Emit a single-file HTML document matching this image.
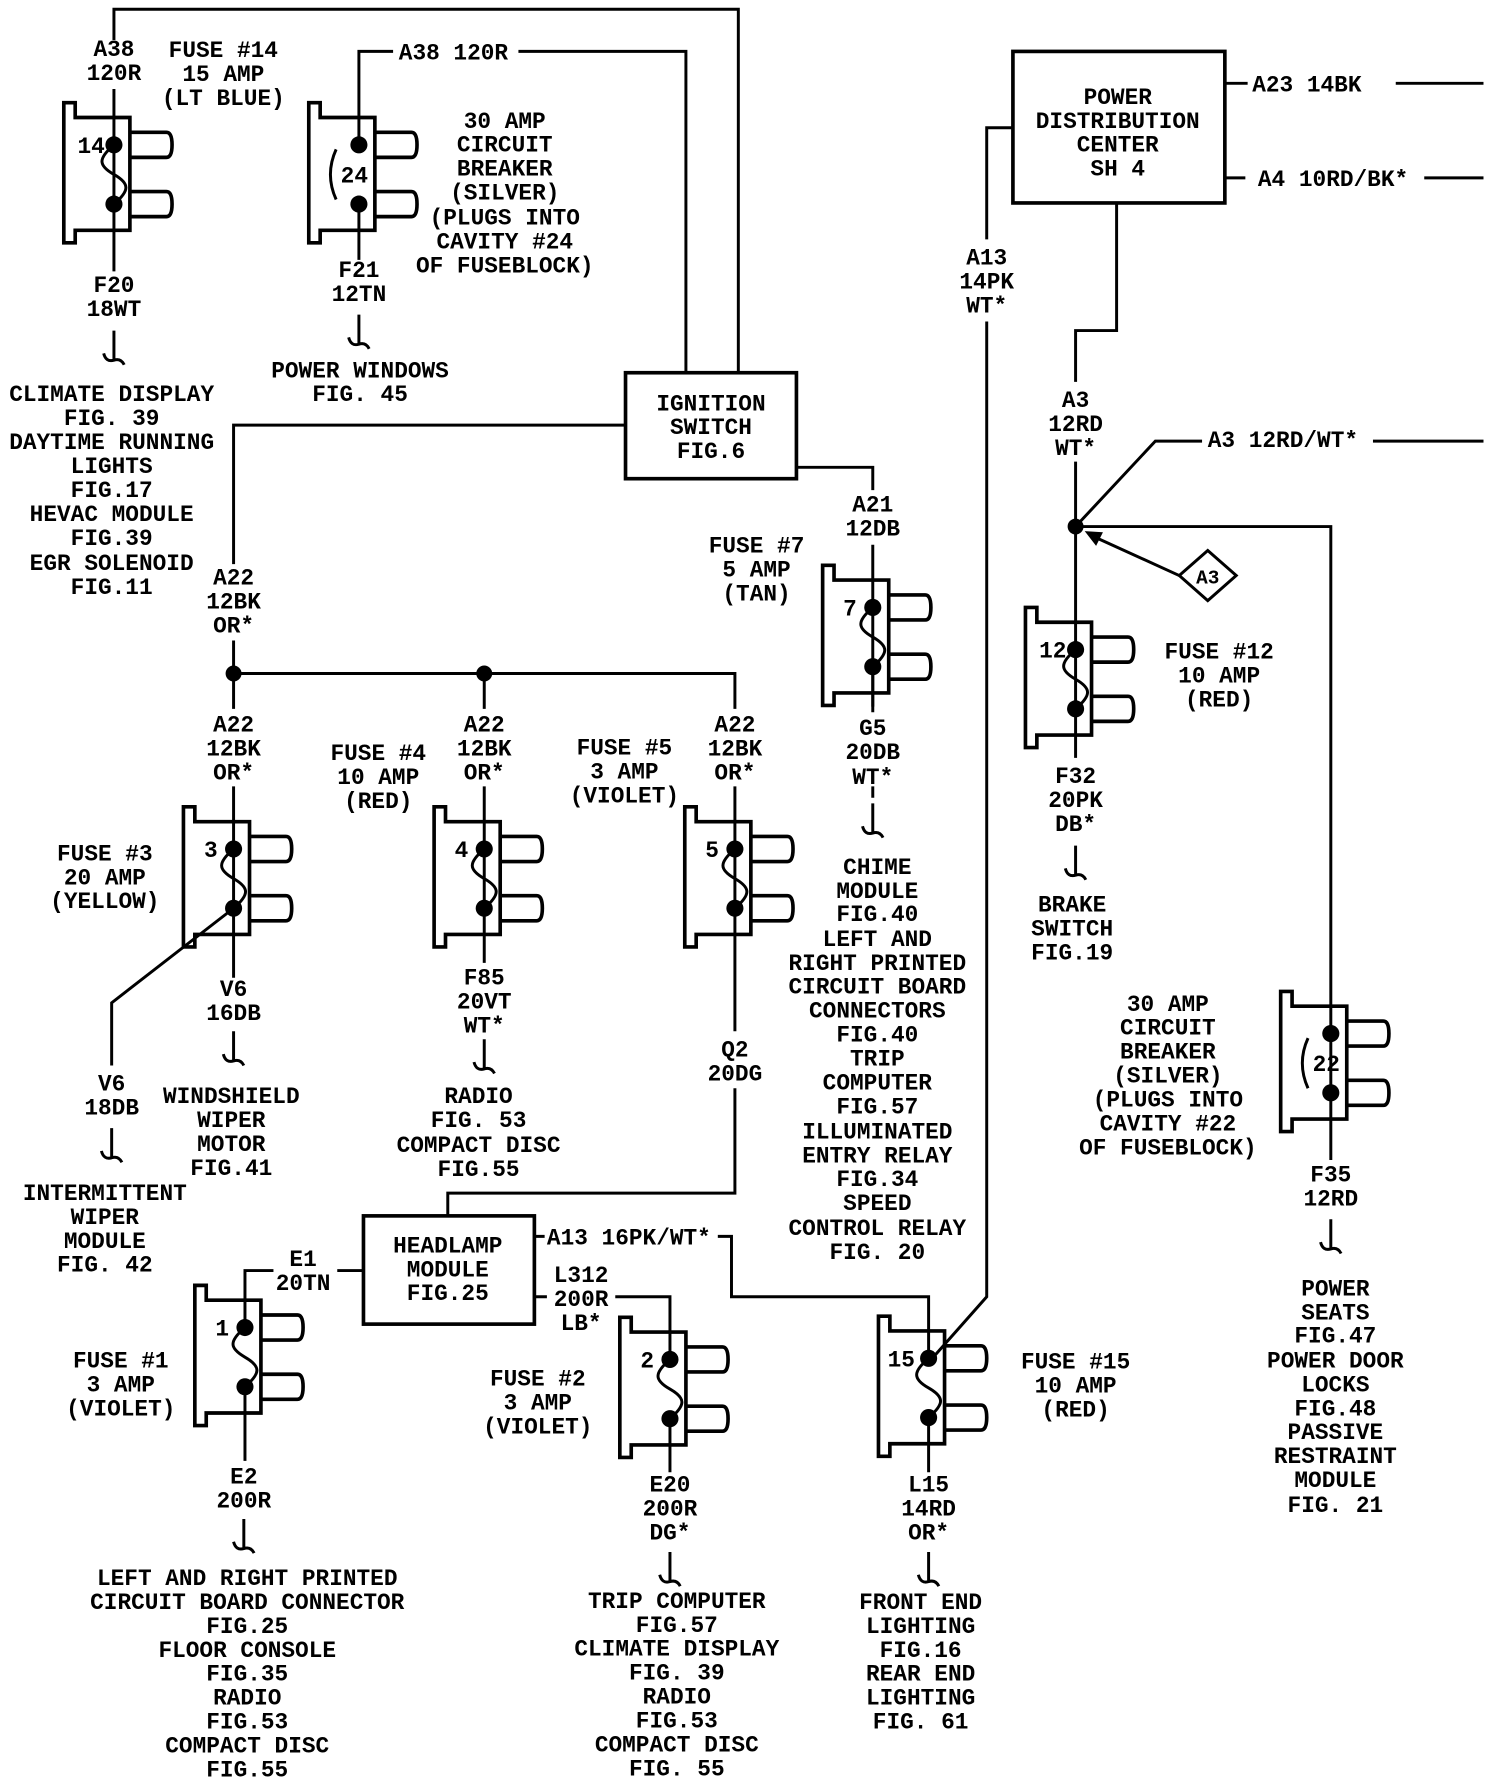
<!DOCTYPE html>
<html><head><meta charset="utf-8"><style>
html,body{margin:0;padding:0;background:#fff;}
svg{display:block;}
text{font-family:"Liberation Mono",monospace;font-weight:bold;font-size:20px;fill:#000;text-anchor:middle;}
.s{text-anchor:start;}
.w{fill:none;stroke:#000;stroke-width:2.6;}
.b{fill:none;stroke:#000;stroke-width:3.2;}
</style></head><body>
<svg width="1504" height="1788" viewBox="0 0 1320 1569" xmlns="http://www.w3.org/2000/svg">
<defs>
<g id="fz">
<polygon class="b" points="-44,-37 -34,-37 -34,-24 14,-24 14,75 -34,75 -34,86 -44,86"/>
<path class="b" d="M14,-11 H46 Q51,-11 51,0 Q51,11 46,11 H14 M14,41 H46 Q51,41 51,52 Q51,63 46,63 H14"/>
<circle cx="0" cy="0" r="7.5"/><circle cx="0" cy="52" r="7.5"/>
<path class="w" d="M0,0 C-14,12 -14,18 0,26 C14,34 14,40 0,52"/>
</g>
<g id="cb">
<polygon class="b" points="-44,-37 -34,-37 -34,-24 14,-24 14,75 -34,75 -34,86 -44,86"/>
<path class="b" d="M14,-11 H46 Q51,-11 51,0 Q51,11 46,11 H14 M14,41 H46 Q51,41 51,52 Q51,63 46,63 H14"/>
<circle cx="0" cy="0" r="7.5"/><circle cx="0" cy="52" r="7.5"/>
<path class="w" d="M-20,4 Q-30,26 -20,48"/>
</g>
<path id="gnd" class="w" d="M0,0 V26 M-9,20 Q-7,28 0,26 Q6,24 9,30"/>
</defs>

<use href="#fz" x="100" y="127"/><text x="80" y="134">14</text>
<use href="#cb" x="315" y="127"/><text x="311" y="160">24</text>
<use href="#fz" x="766" y="533"/><text x="746" y="540">7</text>
<use href="#fz" x="944" y="570"/><text x="924" y="577">12</text>
<use href="#cb" x="1168" y="907"/><text x="1164" y="940">22</text>
<use href="#fz" x="205" y="745"/><text x="185" y="752">3</text>
<use href="#fz" x="425" y="745"/><text x="405" y="752">4</text>
<use href="#fz" x="645" y="745"/><text x="625" y="752">5</text>
<use href="#fz" x="215" y="1165"/><text x="195" y="1172">1</text>
<use href="#fz" x="588" y="1193"/><text x="568" y="1200">2</text>
<use href="#fz" x="815" y="1192"/><text x="791" y="1199">15</text>

<rect class="b" x="549" y="327" width="150" height="93"/>
<rect class="b" x="319" y="1067" width="150" height="95"/>
<rect class="b" x="889" y="45" width="186" height="133"/>

<path class="w" d="M100,35 V8 H648 V327 M100,78 V238"/>
<path class="w" d="M315,127 V45 H345 M455,45 H602 V327 M315,179 V228"/>
<path class="w" d="M549,373 H205 V495 M205,562 V622 M205,591 H645 V622 M425,591 V622"/>
<circle cx="205" cy="591" r="7"/><circle cx="425" cy="591" r="7"/>
<path class="w" d="M699,410 H766 V430 M766,478 V625"/>
<path class="w" d="M205,690 V858 M205,797 L98,880 V935"/>
<path class="w" d="M425,690 V845 M645,690 V905 M645,955 V1047 H393 V1067"/>
<path class="w" d="M215,1165 V1115 H240 M296,1115 H319"/>
<path class="w" d="M469,1085 H478 M630,1085 H642 V1138 H815 V1192"/>
<path class="w" d="M889,112 H866 V210 M866,282 V1138 L820,1190"/>
<path class="w" d="M469,1138 H480 M540,1138 H588 V1193"/>
<path class="w" d="M588,1245 V1292 M815,1245 V1292 M215,1217 V1282"/>
<path class="w" d="M1075,73 H1095 M1225,73 H1302 M1075,156 H1093 M1250,156 H1302"/>
<path class="w" d="M980,178 V290 H944 V335 M944,405 V625 M944,462 L1014,387 H1055 M1205,387 H1302 M944,462 H1168 V965"/>
<circle cx="944" cy="462" r="7"/>
<polygon class="w" points="1060,483 1085,505 1060,527 1035,505"/>
<text x="1060" y="512" style="font-size:17px">A3</text>
<path class="w" d="M1035,505 L958,470"/>
<polygon points="952,466 968,467 962,479"/>
<path class="w" d="M944,622 V665 M1168,959 V1018 M766,585 V620 M766,690 V700"/>

<use href="#gnd" x="100" y="290"/>
<use href="#gnd" x="315" y="276"/>
<use href="#gnd" x="766" y="705"/>
<use href="#gnd" x="944" y="742"/>
<use href="#gnd" x="1168" y="1070"/>
<use href="#gnd" x="205" y="905"/>
<use href="#gnd" x="98" y="990"/>
<use href="#gnd" x="425" y="912"/>
<use href="#gnd" x="214" y="1333"/>
<use href="#gnd" x="588" y="1362"/>
<use href="#gnd" x="815" y="1362"/>

<text x="100" y="49">A38</text><text x="100" y="70">120R</text>
<text x="196" y="50">FUSE #14</text><text x="196" y="71">15 AMP</text><text x="196" y="92">(LT BLUE)</text>
<text x="100" y="256">F20</text><text x="100" y="277">18WT</text>
<text x="98" y="352">CLIMATE DISPLAY</text><text x="98" y="373">FIG. 39</text><text x="98" y="394">DAYTIME RUNNING</text><text x="98" y="415">LIGHTS</text><text x="98" y="436">FIG.17</text><text x="98" y="457">HEVAC MODULE</text><text x="98" y="478">FIG.39</text><text x="98" y="500">EGR SOLENOID</text><text x="98" y="521">FIG.11</text>
<text x="443" y="112">30 AMP</text><text x="443" y="133">CIRCUIT</text><text x="443" y="154">BREAKER</text><text x="443" y="175">(SILVER)</text><text x="443" y="197">(PLUGS INTO</text><text x="443" y="218">CAVITY #24</text><text x="443" y="239">OF FUSEBLOCK)</text>
<text class="s" x="350" y="52">A38 120R</text>
<text x="315" y="243">F21</text><text x="315" y="264">12TN</text>
<text x="316" y="331">POWER WINDOWS</text><text x="316" y="352">FIG. 45</text>
<text x="624" y="360">IGNITION</text><text x="624" y="381">SWITCH</text><text x="624" y="402">FIG.6</text>
<text x="205" y="513">A22</text><text x="205" y="534">12BK</text><text x="205" y="555">OR*</text>
<text x="664" y="485">FUSE #7</text><text x="664" y="506">5 AMP</text><text x="664" y="527">(TAN)</text>
<text x="766" y="449">A21</text><text x="766" y="470">12DB</text>
<text x="766" y="645">G5</text><text x="766" y="666">20DB</text><text x="766" y="688">WT*</text>
<text x="770" y="767">CHIME</text><text x="770" y="788">MODULE</text><text x="770" y="808">FIG.40</text><text x="770" y="830">LEFT AND</text><text x="770" y="851">RIGHT PRINTED</text><text x="770" y="872">CIRCUIT BOARD</text><text x="770" y="893">CONNECTORS</text><text x="770" y="914">FIG.40</text><text x="770" y="935">TRIP</text><text x="770" y="956">COMPUTER</text><text x="770" y="977">FIG.57</text><text x="770" y="999">ILLUMINATED</text><text x="770" y="1020">ENTRY RELAY</text><text x="770" y="1041">FIG.34</text><text x="770" y="1062">SPEED</text><text x="770" y="1084">CONTROL RELAY</text><text x="770" y="1105">FIG. 20</text>
<text x="205" y="642">A22</text><text x="205" y="663">12BK</text><text x="205" y="684">OR*</text>
<text x="425" y="642">A22</text><text x="425" y="663">12BK</text><text x="425" y="684">OR*</text>
<text x="645" y="642">A22</text><text x="645" y="663">12BK</text><text x="645" y="684">OR*</text>
<text x="332" y="667">FUSE #4</text><text x="332" y="688">10 AMP</text><text x="332" y="709">(RED)</text>
<text x="548" y="662">FUSE #5</text><text x="548" y="683">3 AMP</text><text x="548" y="704">(VIOLET)</text>
<text x="92" y="755">FUSE #3</text><text x="92" y="776">20 AMP</text><text x="92" y="797">(YELLOW)</text>
<text x="205" y="874">V6</text><text x="205" y="895">16DB</text>
<text x="203" y="968">WINDSHIELD</text><text x="203" y="989">WIPER</text><text x="203" y="1010">MOTOR</text><text x="203" y="1031">FIG.41</text>
<text x="98" y="957">V6</text><text x="98" y="978">18DB</text>
<text x="92" y="1053">INTERMITTENT</text><text x="92" y="1074">WIPER</text><text x="92" y="1095">MODULE</text><text x="92" y="1116">FIG. 42</text>
<text x="425" y="864">F85</text><text x="425" y="885">20VT</text><text x="425" y="906">WT*</text>
<text x="420" y="968">RADIO</text><text x="420" y="989">FIG. 53</text><text x="420" y="1011">COMPACT DISC</text><text x="420" y="1032">FIG.55</text>
<text x="645" y="927">Q2</text><text x="645" y="948">20DG</text>
<text x="393" y="1099">HEADLAMP</text><text x="393" y="1120">MODULE</text><text x="393" y="1141">FIG.25</text>
<text x="266" y="1111">E1</text><text x="266" y="1132">20TN</text>
<text class="s" x="480" y="1092">A13 16PK/WT*</text>
<text x="510" y="1125">L312</text><text x="510" y="1146">200R</text><text x="510" y="1167">LB*</text>
<text x="106" y="1200">FUSE #1</text><text x="106" y="1221">3 AMP</text><text x="106" y="1242">(VIOLET)</text>
<text x="472" y="1216">FUSE #2</text><text x="472" y="1237">3 AMP</text><text x="472" y="1258">(VIOLET)</text>
<text x="944" y="1201">FUSE #15</text><text x="944" y="1222">10 AMP</text><text x="944" y="1243">(RED)</text>
<text x="214" y="1302">E2</text><text x="214" y="1323">200R</text>
<text x="588" y="1309">E20</text><text x="588" y="1330">200R</text><text x="588" y="1351">DG*</text>
<text x="815" y="1309">L15</text><text x="815" y="1330">14RD</text><text x="815" y="1351">OR*</text>
<text x="217" y="1391">LEFT AND RIGHT PRINTED</text><text x="217" y="1412">CIRCUIT BOARD CONNECTOR</text><text x="217" y="1433">FIG.25</text><text x="217" y="1454">FLOOR CONSOLE</text><text x="217" y="1475">FIG.35</text><text x="217" y="1496">RADIO</text><text x="217" y="1517">FIG.53</text><text x="217" y="1538">COMPACT DISC</text><text x="217" y="1559">FIG.55</text>
<text x="594" y="1411">TRIP COMPUTER</text><text x="594" y="1432">FIG.57</text><text x="594" y="1453">CLIMATE DISPLAY</text><text x="594" y="1474">FIG. 39</text><text x="594" y="1495">RADIO</text><text x="594" y="1516">FIG.53</text><text x="594" y="1537">COMPACT DISC</text><text x="594" y="1558">FIG. 55</text>
<text x="808" y="1412">FRONT END</text><text x="808" y="1433">LIGHTING</text><text x="808" y="1454">FIG.16</text><text x="808" y="1475">REAR END</text><text x="808" y="1496">LIGHTING</text><text x="808" y="1517">FIG. 61</text>
<text x="981" y="91">POWER</text><text x="981" y="112">DISTRIBUTION</text><text x="981" y="133">CENTER</text><text x="981" y="154">SH 4</text>
<text class="s" x="1099" y="80">A23 14BK</text>
<text class="s" x="1104" y="163">A4 10RD/BK*</text>
<text x="866" y="232">A13</text><text x="866" y="253">14PK</text><text x="866" y="274">WT*</text>
<text x="944" y="357">A3</text><text x="944" y="378">12RD</text><text x="944" y="399">WT*</text>
<text class="s" x="1060" y="392">A3 12RD/WT*</text>
<text x="1070" y="578">FUSE #12</text><text x="1070" y="599">10 AMP</text><text x="1070" y="620">(RED)</text>
<text x="944" y="687">F32</text><text x="944" y="708">20PK</text><text x="944" y="729">DB*</text>
<text x="941" y="800">BRAKE</text><text x="941" y="821">SWITCH</text><text x="941" y="842">FIG.19</text>
<text x="1025" y="887">30 AMP</text><text x="1025" y="908">CIRCUIT</text><text x="1025" y="929">BREAKER</text><text x="1025" y="950">(SILVER)</text><text x="1025" y="971">(PLUGS INTO</text><text x="1025" y="992">CAVITY #22</text><text x="1025" y="1013">OF FUSEBLOCK)</text>
<text x="1168" y="1037">F35</text><text x="1168" y="1058">12RD</text>
<text x="1172" y="1137">POWER</text><text x="1172" y="1158">SEATS</text><text x="1172" y="1178">FIG.47</text><text x="1172" y="1200">POWER DOOR</text><text x="1172" y="1221">LOCKS</text><text x="1172" y="1242">FIG.48</text><text x="1172" y="1263">PASSIVE</text><text x="1172" y="1284">RESTRAINT</text><text x="1172" y="1305">MODULE</text><text x="1172" y="1327">FIG. 21</text>
</svg>
</body></html>
